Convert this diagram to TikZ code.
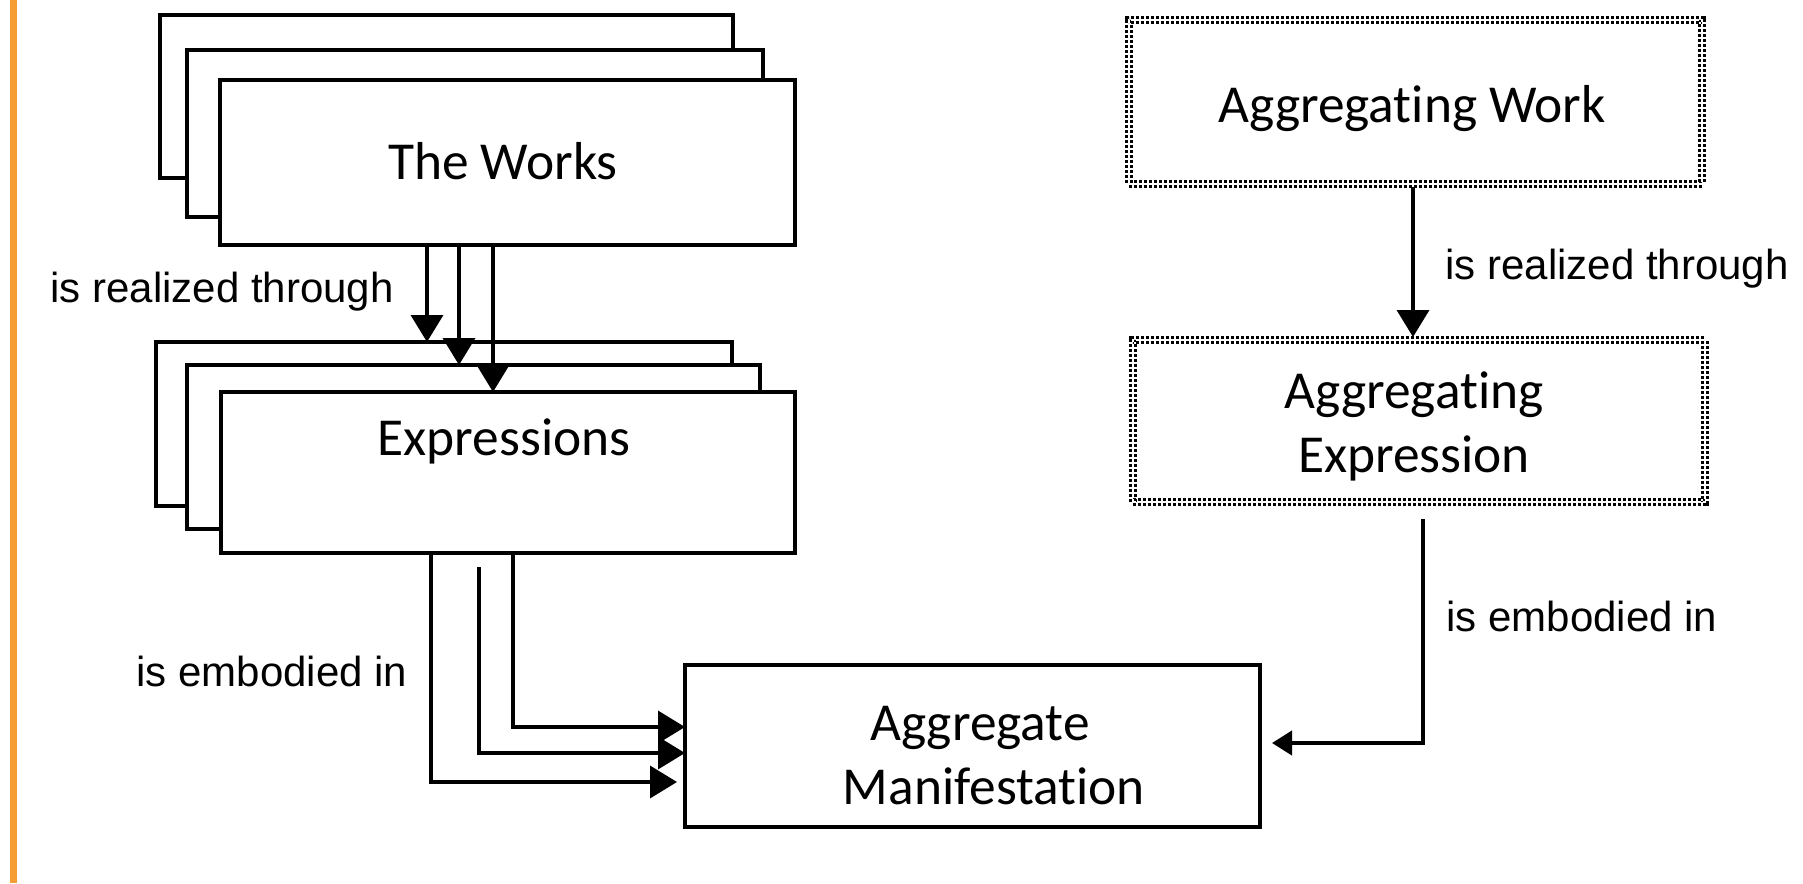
\documentclass[tikz,border=0pt]{standalone}
\usepackage{fontspec}
\setmainfont{Carlito}[Ligatures=NoCommon]
\newfontfamily\arialfont{Liberation Sans}
\usetikzlibrary{arrows.meta,calc}
\definecolor{barorange}{RGB}{245,158,51}
\begin{document}
\begin{tikzpicture}[x=0.5pt,y=-0.5pt,
  box/.style={draw, line width=1.7pt, fill=white, rectangle, inner sep=0pt, outer sep=0pt},
  dotbox/.style={draw, line width=1.5pt, double, double distance=0.8pt, dash pattern=on 1.4pt off 1.1pt, fill=white, rectangle, inner sep=0pt, outer sep=0pt},
  arr/.style={line width=1.8pt, -{Triangle[width=16pt,length=13.5pt]}},
  boxtext/.style={font=\fontsize{26.7}{32}\selectfont, anchor=base, inner sep=0pt},
  reltext/.style={font=\arialfont\fontsize{21}{25}\selectfont, anchor=base west, inner sep=0pt}]
\useasboundingbox (0,0) rectangle (1803,883);
\fill[barorange] (10,0) rectangle (17,883);

% The Works stack
\node[box, minimum width=286.5pt, minimum height=81.5pt] (W1) at (446.5,96.5) {};
\node[box, minimum width=288pt, minimum height=83.5pt] (W2) at (475,133.5) {};
\node[box, minimum width=287.5pt, minimum height=82.5pt] (W3) at (507.5,162.5) {};
\node[boxtext] (tW) at (503,179) {The Works};

% Expressions stack
\node[box, minimum width=288pt, minimum height=82pt] (E1) at (444,424) {};
\node[box, minimum width=286.5pt, minimum height=82pt] (E2) at (473.5,447) {};
\node[box, minimum width=287pt, minimum height=80.5pt] (E3) at (508,472.5) {};
\node[boxtext] (tE) at (504,455) {Expressions};

% Aggregate Manifestation
\node[box, minimum width=287.5pt, minimum height=81pt] (AM) at (972.5,746) {};
\node[boxtext] (tAM1) at (980,740) {Aggregate};
\node[boxtext] (tAM2) at (994,804) {Manifestation};

% Aggregating Work / Expression
\node[dotbox, minimum width=286.5pt, minimum height=82pt] (AW) at (1415.5,102) {};
\node[boxtext] (tAW) at (1412,122) {Aggregating Work};
\node[dotbox, minimum width=286pt, minimum height=81pt] (AE) at (1419,421) {};
\node[boxtext] (tAE1) at (1414,408) {Aggregating};
\node[boxtext] (tAE2) at (1414,472) {Expression};

% labels
\node[reltext] (l1) at (50,302) {is realized through};
\node[reltext] (l2) at (1445,279) {is realized through};
\node[reltext] (l3) at (136,686) {is embodied in};
\node[reltext] (l4) at (1446,631) {is embodied in};

% Works -> Expressions
\coordinate (xa) at (427,0);
\coordinate (xb) at (459,0);
\coordinate (xc) at (493,0);
\draw[arr] (W3.south -| xa) -- (E1.north -| xa);
\draw[arr] (W3.south -| xb) -- (E2.north -| xb);
\draw[arr] (W3.south -| xc) -- (E3.north -| xc);

% Expressions -> Aggregate Manifestation
\coordinate (pA) at (431,782);
\coordinate (pB) at (479,753);
\coordinate (pC) at (513,727);
\coordinate (bstart) at (479,567);
\draw[arr] (E3.south -| pA) |- ($(AM.west |- pA)+(-8,0)$);
\draw[arr] (bstart) |- (AM.west |- pB);
\draw[arr] (E3.south -| pC) |- (AM.west |- pC);

% Aggregating Work -> Aggregating Expression
\coordinate (pE) at (1413,0);
\draw[arr] ($(AW.south -| pE)+(0,3)$) -- ($(AE.north -| pE)+(0,-3)$);

% Aggregating Expression -> Aggregate Manifestation
\coordinate (pD) at (1423,743);
\draw[line width=2.1pt, -{Triangle[width=12pt,length=10pt]}] ($(AE.south -| pD)+(0,17)$) |- ($(AM.east |- pD)+(12,0)$);
\end{tikzpicture}
\end{document}
